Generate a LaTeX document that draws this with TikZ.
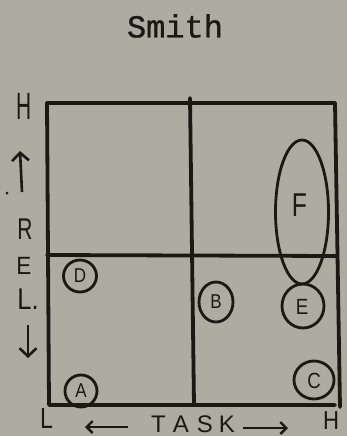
\documentclass[tikz,border=0pt]{standalone}
\usepackage{fontspec}
\usepackage{graphicx}
\setmainfont{Liberation Sans}
\newfontfamily\typew[FakeBold=1]{Liberation Mono}
\usetikzlibrary{arrows.meta}
\definecolor{paper}{RGB}{174,172,160}
\definecolor{ink}{RGB}{25,25,22}
\newcommand{\hwtext}[3]{{\fontsize{#1}{#1}\selectfont\scalebox{#2}[1]{#3}}}
\tikzset{
  grid line/.style={draw=ink, line width=3.8pt, line cap=round, line join=round},
  hand/.style={text=ink, inner sep=0pt},
  ring/.style={draw=ink, line width=2.8pt},
  axisarrow/.style={draw=ink, line width=2.6pt, -{Straight Barb[length=8pt,width=17pt,line width=2.6pt]}},
  smallarrow/.style={draw=ink, line width=2.4pt, -{Straight Barb[length=6pt,width=12pt,line width=2.4pt]}}
}
\begin{document}
\begin{tikzpicture}[x=1pt,y=-1pt]
\fill[paper] (0,0) rectangle (347,436);
\useasboundingbox (0,0) rectangle (347,436);
% title
\node[text=ink, font=\typew\fontsize{32}{32}\selectfont, inner sep=0pt] (title) at (175,26) {Smith};
% grid
\coordinate (c1) at (47,103);
\coordinate (c2) at (335,103);
\coordinate (c3) at (340,407);
\coordinate (c4) at (335,405);
\coordinate (c5) at (49,405);
\draw[grid line] (c2) -- (c1) -- (c5) -- (c4);
\draw[grid line] (c2) -- (c3);
\coordinate (vt) at (190,98);
\coordinate (vb) at (194,405);
\draw[grid line] (vt) -- (vb);
\coordinate (hl) at (47,255);
\coordinate (hr) at (336,256);
\draw[grid line] (hl) -- (hr);
% left axis labels
\node[hand] (hH) at (24.5,106) {\hwtext{38}{0.55}{H}};
\coordinate (upb) at (22,192);
\coordinate (upt) at (20,151);
\draw[axisarrow] (upb) -- (upt);
\fill[ink] (7,193) circle (1.5pt);
\node[hand] (hR) at (25,229) {\hwtext{30}{0.7}{R}};
\node[hand] (hE) at (24,266) {\hwtext{25}{0.9}{E}};
\node[hand] (hL) at (28,299) {\hwtext{30}{0.85}{L.}};
\coordinate (dnt) at (28,325);
\coordinate (dnb) at (28,358);
\draw[axisarrow] (dnt) -- (dnb);
% bottom axis labels
\node[hand] (bL) at (46.5,419) {\hwtext{29}{0.8}{L}};
\coordinate (la) at (128,427);
\coordinate (lb) at (85,427);
\draw[smallarrow] (la) -- (lb);
\node[hand] (task) at (193,424) {\hwtext{24}{1}{T\hspace{7pt}A\hspace{8pt}S\hspace{6pt}K}};
\coordinate (ra) at (243,428);
\coordinate (rb) at (288,428);
\draw[smallarrow] (ra) -- (rb);
\node[hand] (bH) at (331,421) {\hwtext{26}{0.85}{H}};
% circled letters
\draw[ring] (80,276) ellipse (16.5pt and 16pt);
\node[hand] (D) at (80,276) {\hwtext{20}{0.85}{D}};
\draw[ring] (81,391) ellipse (16pt and 16pt);
\node[hand] (A) at (81,391) {\hwtext{20}{0.85}{A}};
\draw[ring] (216,302) ellipse (17pt and 20pt);
\node[hand] (B) at (216,302) {\hwtext{20}{0.85}{B}};
\draw[ring] (303,306) ellipse (21pt and 22pt);
\node[hand] (E) at (302,307) {\hwtext{22}{0.85}{E}};
\draw[ring] (314,380) ellipse (20pt and 19pt);
\node[hand] (C) at (314,381) {\hwtext{22}{0.85}{C}};
\draw[ring] (302,212) ellipse (26.5pt and 72pt);
\node[hand] (F) at (299.5,205) {\hwtext{33}{0.75}{F}};
\end{tikzpicture}
\end{document}
